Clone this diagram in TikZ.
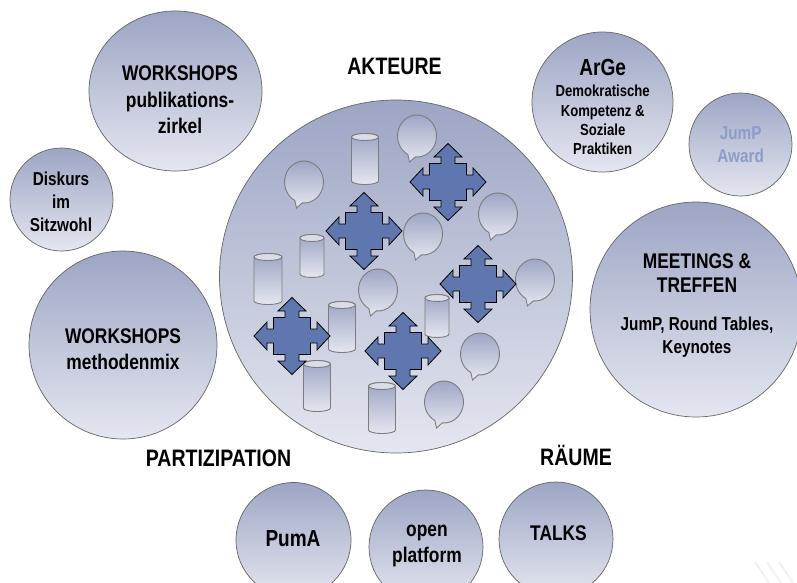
\documentclass[tikz,border=0pt]{standalone}
\usepackage{fontspec}
\setmainfont[FakeStretch=0.82]{Liberation Sans}
\usepackage{tikz}
\usetikzlibrary{shapes.geometric}

\definecolor{shadetop}{HTML}{9DA5C4}
\definecolor{shadebot}{HTML}{E4E7F0}
\definecolor{arrowblue}{HTML}{5F77AE}
\definecolor{ringgrey}{HTML}{666666}
\definecolor{icongrey}{HTML}{7C7C7C}
\definecolor{awardblue}{HTML}{8E9CC8}

\tikzset{
	blob/.style={ellipse,draw=ringgrey,line width=.7pt,top color=shadetop,bottom color=shadebot,inner sep=0pt},
	blobsize/.style 2 args={minimum width=#1pt,minimum height=#2pt},
	caption/.style={align=center,inner sep=0pt,font=\fontsize{21.2}{26.5}\selectfont\bfseries},
	smallcaption/.style={align=center,inner sep=0pt,font=\fontsize{18.7}{23}\selectfont\bfseries},
	heading/.style={inner sep=0pt,font=\fontsize{23.8}{26}\selectfont\bfseries},
	icon/.style={draw=icongrey,line width=.9pt,top color=shadetop,bottom color=shadebot},
	pics/bubble/.style={code={
		\draw[icon] (-1.7,20.9) arc[start angle=95,end angle=-242,x radius=19.5,y radius=21] -- (-7.5,26) -- cycle;
	}},
	pics/canister/.style n args={2}{code={
		\draw[icon] (-#1,-#2) -- (-#1,#2) arc[start angle=180,end angle=0,x radius=#1,y radius=3.5]
			-- (#1,-#2) arc[start angle=0,end angle=-180,x radius=#1,y radius=3.5] -- cycle;
		\draw[draw=icongrey,line width=.9pt,fill=shadebot!85!shadetop] (0,-#2) ellipse[x radius=#1,y radius=3.5];
	}},
	pics/cross/.style={code={
		\draw[draw=black,line width=.8pt,fill=arrowblue,line join=miter]
			(0,-38.5) -- (14,-25) -- (7,-25) -- (7,-18.5) -- (18.5,-18.5) -- (18.5,-7) -- (25,-7) -- (25,-14)
			-- (38,0) -- (25,14) -- (25,7) -- (18.5,7) -- (18.5,18.5) -- (7,18.5) -- (7,25) -- (14,25)
			-- (0,38.5) -- (-14,25) -- (-7,25) -- (-7,18.5) -- (-18.5,18.5) -- (-18.5,7) -- (-25,7) -- (-25,14)
			-- (-38,0) -- (-25,-14) -- (-25,-7) -- (-18.5,-7) -- (-18.5,-18.5) -- (-7,-18.5) -- (-7,-25) -- (-14,-25) -- cycle;
	}}
}

\begin{document}
\begin{tikzpicture}[x=1pt,y=-1pt]
	\useasboundingbox[fill=white] (0,0) rectangle (797,583);
	\clip (0,0) rectangle (797,583);

	% the circles
	\node[blob,blobsize={353}{353}] (akteure) at (396,276.5) {};
	\node[blob,blobsize={173}{160}] (publikation) at (175.5,91) {};
	\node[blob,blobsize={103}{103}] (diskurs) at (61.5,199.5) {};
	\node[blob,blobsize={188}{188}] (methodenmix) at (123,345) {};
	\node[blob,blobsize={141}{140}] (arge) at (602.5,102) {};
	\node[blob,blobsize={103}{103}] (award) at (740.5,144.5) {};
	\node[blob,blobsize={212}{215}] (meetings) at (696,309.5) {};
	\node[blob,blobsize={115}{115}] (puma) at (293.5,540) {};
	\node[blob,blobsize={114}{114}] (platform) at (426,547) {};
	\node[blob,blobsize={114}{114}] (talks) at (556,539) {};

	% the texts in them
	\node[caption] (publikationtext) at (180,100) {WORKSHOPS\\publikations-\\zirkel};
	\node[smallcaption] (diskurstext) at (61,202) {Diskurs\\im\\Sitzwohl};
	\node[caption] (methodenmixtext) at (123,349) {WORKSHOPS\\methodenmix};
	\node[align=center,inner sep=0pt,font=\fontsize{23.3}{26}\selectfont\bfseries] (argetitle) at (602.7,67) {ArGe};
	\node[align=center,inner sep=0pt,font=\fontsize{16}{19.3}\selectfont\bfseries] (argetext) at (602.7,120) {Demokratische\\Kompetenz \&\\Soziale\\Praktiken};
	\node[smallcaption,text=awardblue] (awardtext) at (740.7,144.5) {JumP\\Award};
	\node[caption,font=\fontsize{21.2}{24}\selectfont\bfseries] (meetingstitle) at (697,273) {MEETINGS \&\\TREFFEN};
	\node[smallcaption] (meetingstext) at (697,337.5) {JumP, Round Tables,\\Keynotes};
	\node[caption,font=\fontsize{23.2}{26}\selectfont\bfseries] (pumatext) at (293,539) {PumA};
	\node[caption] (platformtext) at (427,546) {open\\platform};
	\node[caption] (talkstext) at (558.5,533) {TALKS};

	\node[heading] (akteurelabel) at (394.5,66) {AKTEURE};
	\node[heading] (partizipation) at (218.5,458) {PARTIZIPATION};
	\node[heading] (raeume) at (576,455.5) {RÄUME};

	\foreach \px/\py in {304/182,417/136,498/214,423/234,535/280,378/290,480/354,444/402}
		\pic at (\px,\py) {bubble};

	\foreach \px/\py/\cw/\ch in {365/159/13.5/22,312/256/12/18,268/279/14/22,342/327/13.5/22,437/316/12/18,317/386/13.5/22,382/408/13.5/22}
		\pic at (\px,\py) {canister={\cw}{\ch}};

	\foreach \px/\py in {448/182,364/231,478/284,292/336,403/351}
		\pic at (\px,\py) {cross};

	% faint mark in the corner
	\foreach \mx in {755,767,779}
		\draw[black!5,line width=2pt] (\mx,562) -- (\mx+14,583);
\end{tikzpicture}
\end{document}
